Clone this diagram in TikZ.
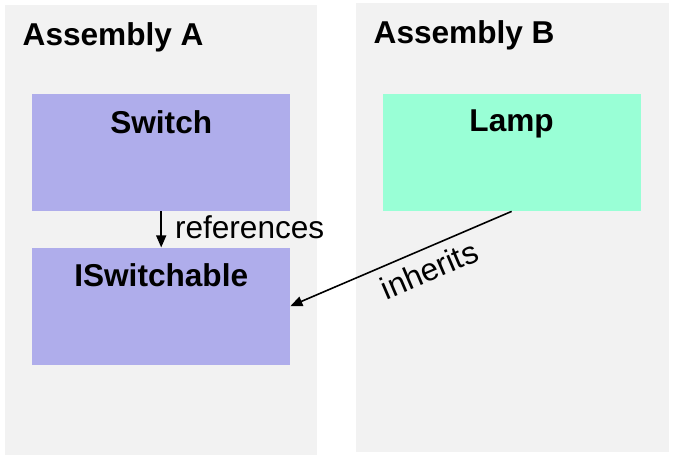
\documentclass[tikz,border=0pt]{standalone}
\usepackage{fontspec}
\setmainfont{Liberation Sans}
\usetikzlibrary{positioning,arrows.meta}

\definecolor{panelgray}{RGB}{242,242,242}
\definecolor{ifacefill}{RGB}{175,173,235}
\definecolor{classfill}{RGB}{153,255,214}
\newcommand\bigsize{\fontsize{31.6}{36}\selectfont}

\tikzset{
  panel/.style={fill=panelgray, inner sep=0pt, minimum width=312pt, anchor=north west},
  asmtitle/.style={label={[anchor=north west, inner sep=0pt, xshift=17.5pt, yshift=-17.5pt, font=\bigsize\bfseries]north west:#1}},
  typebox/.style={rectangle, inner sep=0pt, minimum width=258pt, minimum height=117pt},
  typename/.style={label={[anchor=north, inner sep=0pt, yshift=-16pt, font=\bigsize\bfseries]north:#1}},
  conn/.style={-{Triangle[length=12pt,width=10pt]}, line width=1.6pt},
}

\begin{document}
\begin{tikzpicture}[x=1pt, y=1pt, node distance=36pt]
  \useasboundingbox (0,0) rectangle (675,-461);
  % the two assemblies
  \node[panel, minimum height=450pt, asmtitle={Assembly A}] (asmA) at (5,-5) {};
  \node[panel, minimum width=313pt, minimum height=449pt, asmtitle={Assembly B}] (asmB) at (356,-3) {};
  % types
  \node[typebox, fill=ifacefill, anchor=north west, typename={Switch}] (switch) at (32,-94) {};
  \node[typebox, fill=ifacefill, below=of switch, typename={ISwitchable}] (iswitch) {};
  \node[typebox, fill=classfill, right=92pt of switch, typename={Lamp}] (lamp) {};
  % relations
  \draw[conn] (switch) -- node[right, inner sep=0pt, xshift=13pt, yshift=2pt, font=\bigsize] {references} (iswitch);
  \draw[conn, {Triangle[length=12pt,width=10pt]}-] (iswitch.east) -- node[sloped, below=9pt, pos=0.59, inner sep=0pt, font=\bigsize] {inherits} (lamp.south);
\end{tikzpicture}
\end{document}
